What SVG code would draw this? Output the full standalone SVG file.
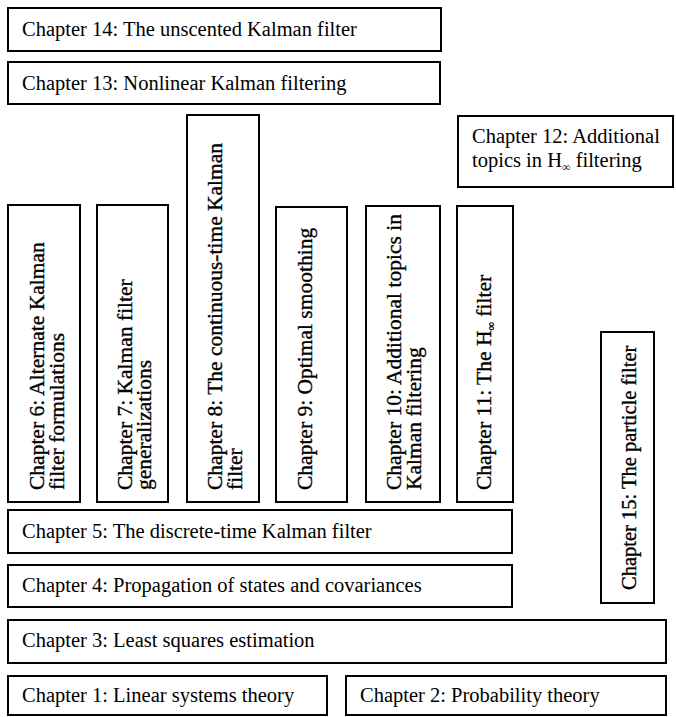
<svg xmlns="http://www.w3.org/2000/svg" width="676" height="717" viewBox="0 0 676 717">
<style>
.b{fill:#fff;stroke:#000;stroke-width:2}
.t{font-family:"Liberation Serif","Times New Roman",serif;font-size:20.5px;fill:#000}
.v{font-family:"Liberation Serif","Times New Roman",serif;font-size:21.5px;fill:#000;stroke:#000;stroke-width:0.35}
.s{font-size:12px}
</style>
<rect width="676" height="717" fill="#fff"/>
<g id="ch14"><rect class="b" x="8" y="8" width="433" height="43"/><text class="t" x="22" y="36">Chapter 14: The unscented Kalman filter</text></g>
<g id="ch13"><rect class="b" x="8" y="62" width="432" height="42"/><text class="t" x="22" y="90">Chapter 13: Nonlinear Kalman filtering</text></g>
<g id="ch12"><rect class="b" x="458" y="116" width="215" height="71"/><text class="t" x="472" y="143">Chapter 12: Additional</text><text class="t" x="472" y="167">topics in H<tspan class="s" dy="4">∞</tspan><tspan dy="-4"> filtering</tspan></text></g>
<g id="ch6"><rect class="b" x="8" y="205" width="72" height="297"/><text class="v" transform="translate(44,490) rotate(-90)">Chapter 6: Alternate Kalman<tspan x="0" dy="20">filter formulations</tspan></text></g>
<g id="ch7"><rect class="b" x="97" y="205" width="71" height="297"/><text class="v" transform="translate(132,490) rotate(-90)">Chapter 7: Kalman filter<tspan x="0" dy="19">generalizations</tspan></text></g>
<g id="ch8"><rect class="b" x="187" y="115" width="72" height="387"/><text class="v" transform="translate(222,490) rotate(-90)">Chapter 8: The continuous-time Kalman<tspan x="0" dy="20">filter</tspan></text></g>
<g id="ch9"><rect class="b" x="276" y="207" width="71" height="295"/><text class="v" transform="translate(312,490) rotate(-90)">Chapter 9: Optimal smoothing</text></g>
<g id="ch10"><rect class="b" x="366" y="206" width="74" height="296"/><text class="v" transform="translate(401,490) rotate(-90)">Chapter 10: Additional topics in<tspan x="0" dy="20">Kalman filtering</tspan></text></g>
<g id="ch11"><rect class="b" x="457" y="206" width="56" height="296"/><text class="v" transform="translate(491,490) rotate(-90)">Chapter 11: The H<tspan class="s" dy="4">∞</tspan><tspan dy="-4"> filter</tspan></text></g>
<g id="ch15"><rect class="b" x="601" y="332" width="53" height="271"/><text class="v" style="font-size:20.5px" transform="translate(636,590) rotate(-90)">Chapter 15: The particle filter</text></g>
<g id="ch5"><rect class="b" x="8" y="510" width="504" height="43"/><text class="t" x="22" y="538">Chapter 5: The discrete-time Kalman filter</text></g>
<g id="ch4"><rect class="b" x="8" y="565" width="504" height="42"/><text class="t" x="22" y="592">Chapter 4: Propagation of states and covariances</text></g>
<g id="ch3"><rect class="b" x="8" y="620" width="658" height="43"/><text class="t" x="22" y="647">Chapter 3: Least squares estimation</text></g>
<g id="ch1"><rect class="b" x="8" y="676" width="319" height="39"/><text class="t" x="22" y="702">Chapter 1: Linear systems theory</text></g>
<g id="ch2"><rect class="b" x="346" y="676" width="320" height="39"/><text class="t" x="360" y="702">Chapter 2: Probability theory</text></g>
</svg>
